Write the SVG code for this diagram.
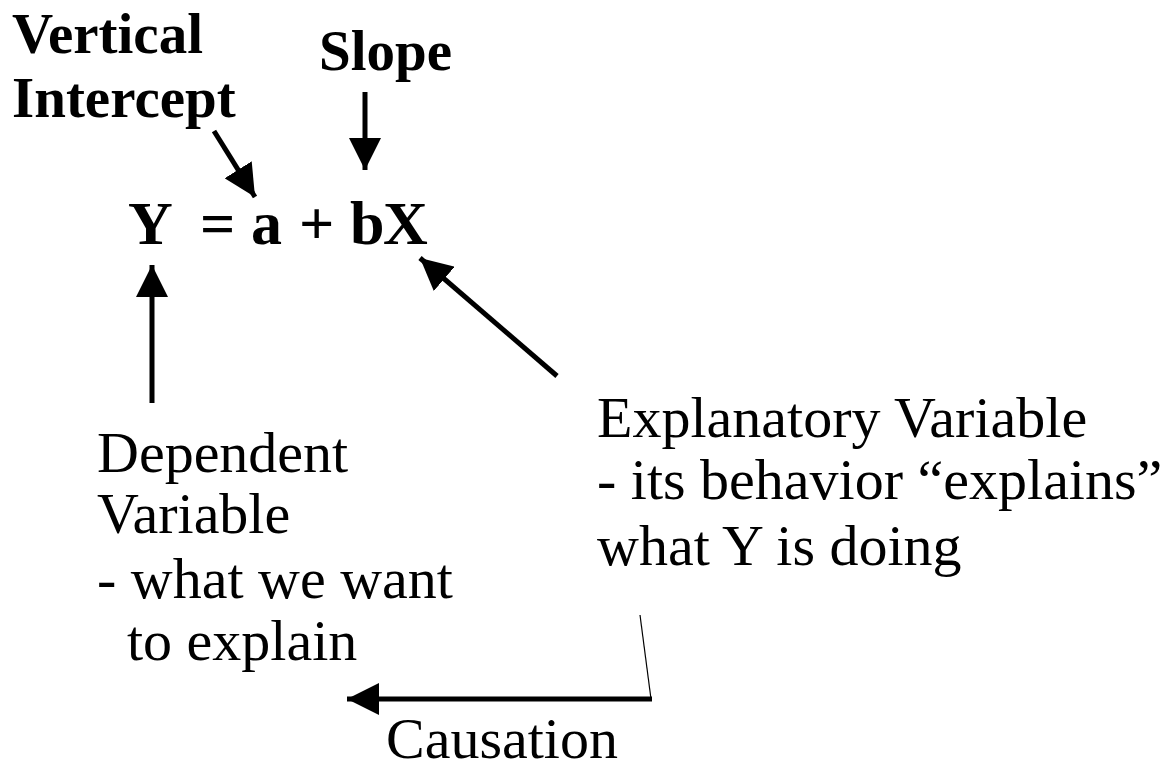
<svg xmlns="http://www.w3.org/2000/svg" width="1162" height="763" viewBox="0 0 1162 763">
<style>
.b{font-family:"Liberation Serif","Times New Roman",serif;font-weight:bold;font-size:57px;fill:#000}
.eq{font-family:"Liberation Serif","Times New Roman",serif;font-weight:bold;font-size:62px;fill:#000}
.r{font-family:"Liberation Serif","Times New Roman",serif;font-size:58px;fill:#000}
.c{stroke:#000;stroke-width:5;fill:none}
</style>
<defs>
<marker id="ah" markerUnits="userSpaceOnUse" markerWidth="34" markerHeight="32" refX="32" refY="16" orient="auto">
<path d="M0,0 L32,16 L0,32 Z" fill="#000"/>
</marker>
</defs>
<rect width="1162" height="763" fill="#fff"/>
<g id="intercept"><text class="b" x="12" y="53">Vertical</text><text class="b" x="12" y="117">Intercept</text></g>
<g id="slope"><text class="b" x="319" y="70">Slope</text></g>
<g id="equation"><text class="eq" y="244"><tspan x="128">Y</tspan><tspan x="200">=</tspan><tspan x="251">a</tspan><tspan x="299">+</tspan><tspan x="350">b</tspan><tspan x="383">X</tspan></text></g>
<g id="dependent"><text class="r" x="97" y="472">Dependent</text><text class="r" x="97" y="533">Variable</text><text class="r" x="97" y="598">- what we want</text><text class="r" x="127" y="660">to explain</text></g>
<g id="explanatory"><text class="r" x="597" y="437">Explanatory Variable</text><text class="r" x="597" y="499">- its behavior “explains”</text><text class="r" x="597" y="565">what Y is doing</text></g>
<g id="causation"><text class="r" x="386" y="758">Causation</text></g>
<g id="connectors">
<line class="c" x1="214" y1="131" x2="255" y2="197" marker-end="url(#ah)"/>
<line class="c" x1="365" y1="92" x2="365" y2="170" marker-end="url(#ah)"/>
<line class="c" x1="152" y1="403" x2="152" y2="265" marker-end="url(#ah)"/>
<line class="c" x1="557" y1="376" x2="420" y2="258" marker-end="url(#ah)"/>
<line stroke="#000" stroke-width="1.2" x1="640" y1="615" x2="651" y2="699"/>
<line class="c" x1="652" y1="699" x2="347" y2="699" marker-end="url(#ah)"/>
</g>
</svg>
